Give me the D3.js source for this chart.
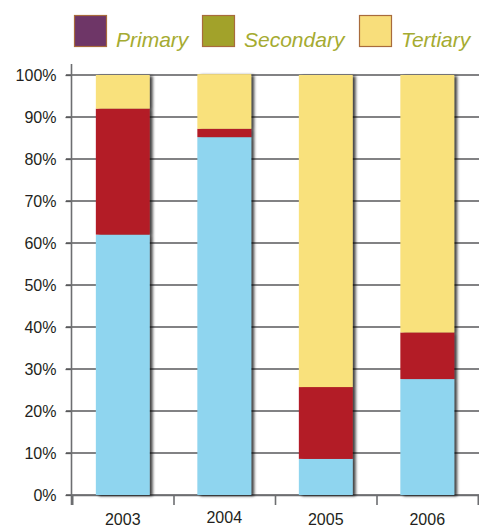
<!DOCTYPE html>
<html><head><meta charset="utf-8">
<script src="https://cdn.jsdelivr.net/npm/d3@7"></script>
<style>body{margin:0;background:#fff}svg{display:block}</style>
</head><body>
<svg id="c" width="479" height="529"></svg>
<script>
const years = ["2003","2004","2005","2006"];
const bottomBlue = [62, 85.2, 8.6, 27.6];
const middleRed = [30, 2.0, 17.1, 11.1];
const topYellow = [8, 13.0, 74.3, 61.3];
const yTicks = [0,10,20,30,40,50,60,70,80,90,100];
const legendNames = ["Primary","Secondary","Tertiary"];
const legendColors = ["#6e3667","#a2a22a","#f8de7b"];
const segColors = ["#8fd5ef","#b31e25","#f9e17b"];

const svg = d3.select("#c");
const x = d3.scaleBand().domain(years).range([72, 478]).paddingInner(0.47).paddingOuter(0.235);
const y = d3.scaleLinear().domain([0,100]).range([495, 75]);

const defs = svg.append("defs");
const f = defs.append("filter").attr("id","sh").attr("x","-20%").attr("y","-20%").attr("width","140%").attr("height","140%");
f.append("feDropShadow").attr("dx",3).attr("dy",1).attr("stdDeviation",1.4).attr("flood-color","#000").attr("flood-opacity",0.75);

// gridlines
svg.append("g").selectAll("line").data(yTicks).join("line")
  .attr("x1",66).attr("x2",479).attr("y1",d=>y(d)).attr("y2",d=>y(d))
  .attr("stroke","#58595b").attr("stroke-width",1.3);

// y axis
const ya = svg.append("g").attr("transform","translate(71.5,0)")
  .call(d3.axisLeft(y).tickValues(yTicks).tickFormat(d=>d+"%").tickSize(6).tickPadding(9));
ya.select(".domain").remove();
ya.selectAll(".tick line").attr("stroke","#58595b").attr("stroke-width",1.3);
ya.selectAll("text").attr("font-family","Liberation Sans, Arial, sans-serif").attr("font-size",16).attr("fill","#231f20");
svg.append("line").attr("x1",71.5).attr("x2",71.5).attr("y1",64).attr("y2",505).attr("stroke","#6d6e71").attr("stroke-width",1.6);

// x axis
const xt = d3.scaleLinear().domain([0,4]).range([72,478]);
const xa = svg.append("g").attr("transform","translate(0,495)")
  .call(d3.axisBottom(xt).ticks(4).tickFormat("").tickSize(10));
xa.select(".domain").attr("stroke","#6d6e71").attr("stroke-width",1.6);
xa.selectAll(".tick line").attr("stroke","#6d6e71").attr("stroke-width",1.6);

// stacked bars
const rows = years.map((yr,i)=>({year:yr, a:bottomBlue[i], b:middleRed[i], c:topYellow[i]}));
const stack = d3.stack().keys(["a","b","c"])(rows);
const bars = svg.append("g").attr("filter","url(#sh)");
stack.forEach((layer,li)=>{
  bars.append("g").selectAll("rect").data(layer).join("rect")
    .attr("x",d=>x(d.data.year)).attr("width",x.bandwidth())
    .attr("y",d=>y(d[1])).attr("height",d=>y(d[0])-y(d[1]))
    .attr("fill",segColors[li]);
});

// x labels
svg.append("g").selectAll("text").data(years).join("text")
  .attr("x",d=>x(d)+x.bandwidth()/2).attr("y",(d,i)=>i==1?523:525)
  .attr("text-anchor","middle").attr("font-family","Liberation Sans, Arial, sans-serif")
  .attr("font-size",16).attr("fill","#231f20").text(d=>d);

// legend
const lx = [74, 202, 359];
const lg = svg.append("g");
legendNames.forEach((n,i)=>{
  lg.append("rect").attr("x",lx[i]+0.5).attr("y",15.5).attr("width",32).attr("height",31)
    .attr("fill",legendColors[i]).attr("stroke","#a86b3c").attr("stroke-width",1.2);
  lg.append("text").attr("x",lx[i]+42).attr("y",47).attr("font-family","Liberation Sans, Arial, sans-serif")
    .attr("font-style","italic").attr("font-size",21).attr("fill","#a5ab31").text(n);
});
</script>
</body></html>
